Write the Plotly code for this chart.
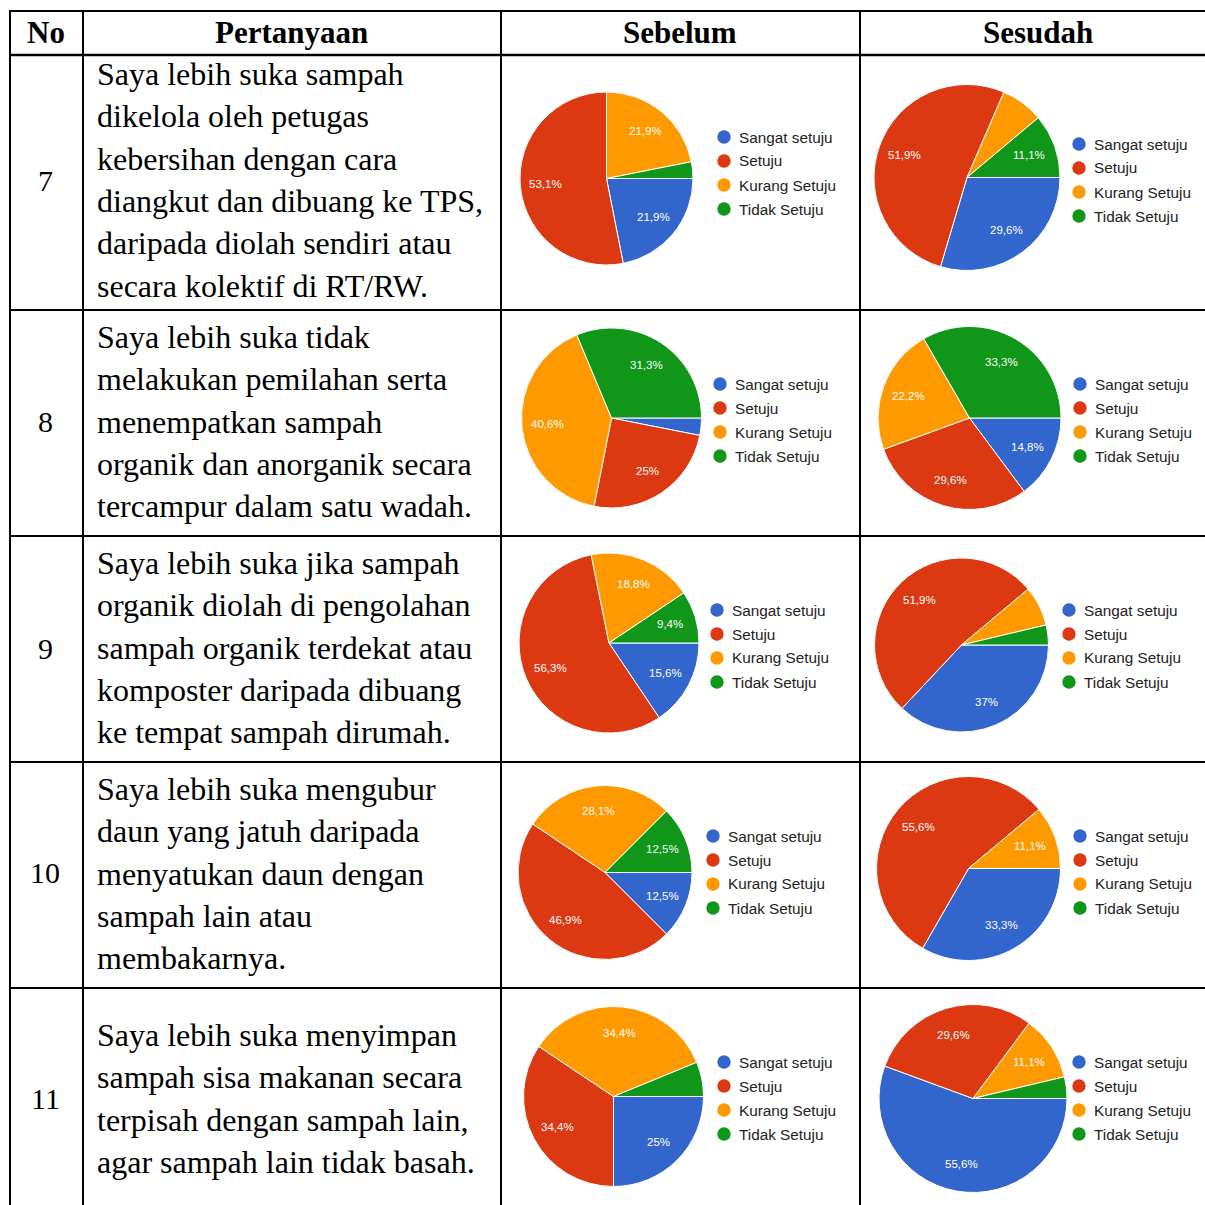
import math
import plotly.graph_objects as go

# ---------------- data ----------------
categories = ["Sangat setuju", "Setuju", "Kurang Setuju", "Tidak Setuju"]
colors = ["#3366cc", "#dc3912", "#ff9900", "#109618"]
headers = ["No", "Pertanyaan", "Sebelum", "Sesudah"]
question_no = ["7", "8", "9", "10", "11"]
questions = [
    ["Saya lebih suka sampah", "dikelola oleh petugas", "kebersihan dengan cara",
     "diangkut dan dibuang ke TPS,", "daripada diolah sendiri atau",
     "secara kolektif di RT/RW."],
    ["Saya lebih suka tidak", "melakukan pemilahan serta", "menempatkan sampah",
     "organik dan anorganik secara", "tercampur dalam satu wadah."],
    ["Saya lebih suka jika sampah", "organik diolah di pengolahan",
     "sampah organik terdekat atau", "komposter daripada dibuang",
     "ke tempat sampah dirumah."],
    ["Saya lebih suka mengubur", "daun yang jatuh daripada", "menyatukan daun dengan",
     "sampah lain atau", "membakarnya."],
    ["Saya lebih suka menyimpan", "sampah sisa makanan secara",
     "terpisah dengan sampah lain,", "agar sampah lain tidak basah."],
]
sebelum = [
    [21.9, 53.1, 21.9, 3.1],
    [3.1, 25.0, 40.6, 31.3],
    [15.6, 56.3, 18.8, 9.4],
    [12.5, 46.9, 28.1, 12.5],
    [25.0, 34.4, 34.4, 6.2],
]
sesudah = [
    [29.6, 51.9, 7.4, 11.1],
    [14.8, 29.6, 22.2, 33.3],
    [37.0, 51.9, 7.4, 3.7],
    [33.3, 55.6, 11.1, 0.0],
    [55.6, 29.6, 11.1, 3.7],
]

# ---------------- layout (pixels) ----------------
W = H = 1205
col_lines = [10, 83, 501, 860]
row_lines = [11, 55, 310, 536, 762, 988]
header_x = [46, 291, 680, 1038]
header_y = 32
no_x = 45
no_y = [180, 421, 648, 872, 1098]
text_x = 95
text_y0 = [74, 337, 563, 789, 1035]
line_gap = 42.3
pie_geom_before = [(606.5, 178.5, 86.5), (611.5, 418, 90), (609, 643, 90),
                   (605, 872.5, 87), (613.5, 1096.5, 90)]
pie_geom_after = [(967, 177.5, 93), (969.5, 418, 91.5), (961.5, 645, 87),
                  (968.5, 868.5, 92), (973, 1098.5, 94)]
leg_before = [(724, 137), (720, 384), (717, 610), (713, 836), (724, 1062)]
leg_after = [(1079, 144), (1080, 384), (1069, 610), (1080, 836), (1079, 1062)]
leg_gap = 24
START_ANGLE = 90        # first slice starts at 3 o'clock, clockwise
LABEL_RADIUS = 0.71     # fraction of radius where slice labels sit

SERIF = "Liberation Serif, Times New Roman, serif"
SANS = "Liberation Sans, Arial, sans-serif"


def X(px):
    return px / W


def Y(py):
    return 1 - py / H


def fmt(v):
    if v < 9:
        return ""
    s = f"{v:.1f}".replace(".", ",")
    if s.endswith(",0"):
        s = s[:-2]
    return s + "%"


fig = go.Figure()
annotations = []
shapes = []

# pies
for vals_list, geoms in ((sebelum, pie_geom_before), (sesudah, pie_geom_after)):
    for vals, (cx, cy, r) in zip(vals_list, geoms):
        fig.add_trace(go.Pie(
            labels=categories, values=vals, sort=False, direction="clockwise",
            rotation=START_ANGLE, textinfo="none",
            marker=dict(colors=colors, line=dict(color="white", width=1)),
            domain=dict(x=[X(cx - r), X(cx + r)], y=[Y(cy + r), Y(cy - r)]),
            showlegend=False, hoverinfo="label+percent",
        ))
        # slice labels, placed along each slice's middle angle
        total = sum(vals)
        acc = 0.0
        for v in vals:
            mid = START_ANGLE + 360.0 * (acc + v / 2) / total
            acc += v
            t = fmt(v)
            if not t:
                continue
            a = math.radians(mid)
            lx = cx + LABEL_RADIUS * r * math.sin(a)
            ly = cy - LABEL_RADIUS * r * math.cos(a)
            annotations.append(dict(x=X(lx), y=Y(ly), xref="paper", yref="paper",
                                    text=t, showarrow=False, xanchor="center",
                                    yanchor="middle",
                                    font=dict(family=SANS, size=11.5, color="white")))

# legends
for anchors in (leg_before, leg_after):
    for (lx, ly) in anchors:
        for i, (cat, col) in enumerate(zip(categories, colors)):
            yy = ly + i * leg_gap
            shapes.append(dict(type="circle", xref="paper", yref="paper",
                               xsizemode="pixel", ysizemode="pixel",
                               xanchor=X(lx), yanchor=Y(yy),
                               x0=-6.7, x1=6.7, y0=-6.7, y1=6.7,
                               fillcolor=col, line=dict(width=0)))
            annotations.append(dict(x=X(lx + 13), y=Y(yy), xref="paper", yref="paper",
                                    text=cat, showarrow=False, xanchor="left",
                                    yanchor="middle",
                                    font=dict(family=SANS, size=15.3, color="#222222")))

# table lines
for xl in col_lines:
    shapes.append(dict(type="line", xref="paper", yref="paper",
                       x0=X(xl), x1=X(xl), y0=Y(row_lines[0]), y1=0,
                       line=dict(color="black", width=2)))
for k, yl in enumerate(row_lines):
    shapes.append(dict(type="line", xref="paper", yref="paper",
                       x0=X(col_lines[0] - 1), x1=1, y0=Y(yl), y1=Y(yl),
                       line=dict(color="black", width=2.5 if k == 1 else 2)))

# headers
for hx, ht in zip(header_x, headers):
    annotations.append(dict(x=X(hx), y=Y(header_y), xref="paper", yref="paper",
                            text=f"<b>{ht}</b>", showarrow=False, xanchor="center",
                            yanchor="middle",
                            font=dict(family=SERIF, size=31, color="black")))

# numbers and questions
for n, ny, lines, ty in zip(question_no, no_y, questions, text_y0):
    annotations.append(dict(x=X(no_x), y=Y(ny), xref="paper", yref="paper", text=n,
                            showarrow=False, xanchor="center", yanchor="middle",
                            font=dict(family=SERIF, size=30, color="black")))
    for j, ln in enumerate(lines):
        annotations.append(dict(x=X(text_x), y=Y(ty + j * line_gap), xref="paper",
                                yref="paper", text=ln, showarrow=False,
                                xanchor="left", yanchor="middle",
                                font=dict(family=SERIF, size=32, color="black")))

fig.update_layout(width=W, height=H, margin=dict(l=0, r=0, t=0, b=0),
                  paper_bgcolor="white", plot_bgcolor="white",
                  annotations=annotations, shapes=shapes, showlegend=False)

fig.write_html("out.html", config={"displayModeBar": False},
               post_script="document.body.style.margin='0';")
